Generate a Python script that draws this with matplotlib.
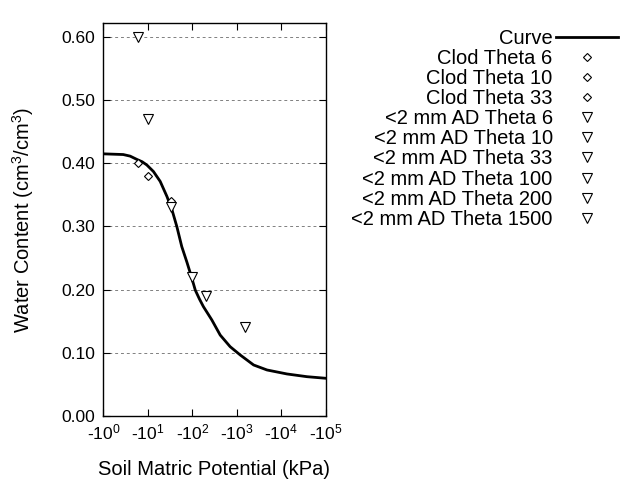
import matplotlib
matplotlib.use("Agg")
import matplotlib.pyplot as plt
from matplotlib.ticker import FixedLocator, FixedFormatter

plt.rcParams["font.family"] = ["Liberation Sans", "DejaVu Sans"]
plt.rcParams["mathtext.default"] = "regular"

# ─── Data (matric potential in kPa, plotted as magnitude on log axis) ────────
curve_kpa = [1, 2.8, 4, 5.6, 7.5, 9.5, 13.4, 19, 27, 35, 45, 58, 76, 95,
             117, 145, 178, 275, 425, 710, 1200, 2400, 4800, 13500, 38000,
             100000]
curve_theta = [0.4146, 0.4135, 0.411, 0.406, 0.402, 0.397, 0.3866, 0.371,
               0.347, 0.326, 0.2995, 0.268, 0.243, 0.221, 0.199, 0.185,
               0.173, 0.152, 0.128, 0.1097, 0.0965, 0.0807, 0.0728, 0.0665,
               0.0622, 0.0597]

clod_labels = ["Clod Theta 6", "Clod Theta 10", "Clod Theta 33"]
clod_kpa = [6, 10, 33]
clod_theta = [0.40, 0.38, 0.34]

ad_labels = ["<2 mm AD Theta 6", "<2 mm AD Theta 10", "<2 mm AD Theta 33",
             "<2 mm AD Theta 100", "<2 mm AD Theta 200", "<2 mm AD Theta 1500"]
ad_kpa = [6, 10, 33, 100, 200, 1500]
ad_theta = [0.60, 0.47, 0.33, 0.22, 0.19, 0.14]

x_ticks = [1, 10, 100, 1000, 10000, 100000]
x_ticklabels = ["-10$^{%d}$" % i for i in range(6)]
y_ticks = [0.0, 0.1, 0.2, 0.3, 0.4, 0.5, 0.6]

# ─── Figure ──────────────────────────────────────────────────────────────────
fig = plt.figure(figsize=(6.4, 4.8), dpi=100)
ax = fig.add_axes([0.1615, 0.1333, 0.3473, 0.8181])

handles = []
labels = []
h, = ax.plot(curve_kpa, curve_theta, color="black", lw=2.0, zorder=3)
handles.append(h)
labels.append("Curve")
for lab, xv, yv in zip(clod_labels, clod_kpa, clod_theta):
    h, = ax.plot([xv], [yv], ls="none", marker="D", ms=4.2, mfc="white",
                 mec="black", mew=0.8, zorder=4)
    handles.append(h)
    labels.append(lab)
for lab, xv, yv in zip(ad_labels, ad_kpa, ad_theta):
    h, = ax.plot([xv], [yv], ls="none", marker="v", ms=7, mfc="white",
                 mec="black", mew=0.8, zorder=4)
    handles.append(h)
    labels.append(lab)

ax.set_xscale("log")
ax.set_xlim(1, 100000)
ax.set_ylim(0, 0.621)
ax.xaxis.set_major_locator(FixedLocator(x_ticks))
ax.xaxis.set_major_formatter(FixedFormatter(x_ticklabels))
ax.xaxis.set_minor_locator(FixedLocator([]))
ax.set_yticks(y_ticks)
ax.set_yticklabels(["%.2f" % v for v in y_ticks])
ax.tick_params(direction="in", length=5, width=0.8, top=True, right=True,
               labelsize=12.5, pad=6)
ax.tick_params(axis="x", pad=5)
ax.grid(axis="y", color="gray", ls=(0, (3, 3)), lw=0.7)
for sp in ax.spines.values():
    sp.set_linewidth(1.0)

ax.set_xlabel("Soil Matric Potential (kPa)", fontsize=14.5, labelpad=12)
ax.set_ylabel("Water Content (cm$^3$/cm$^3$)", fontsize=14.5, labelpad=18)

fig.legend(handles, labels, loc="upper left", bbox_to_anchor=(0.549, 0.94),
           frameon=False, markerfirst=False, fontsize=14.5, handlelength=3.1,
           handletextpad=0.15, labelspacing=0.055, borderpad=0, borderaxespad=0)

fig.savefig("out.png", dpi=100)
